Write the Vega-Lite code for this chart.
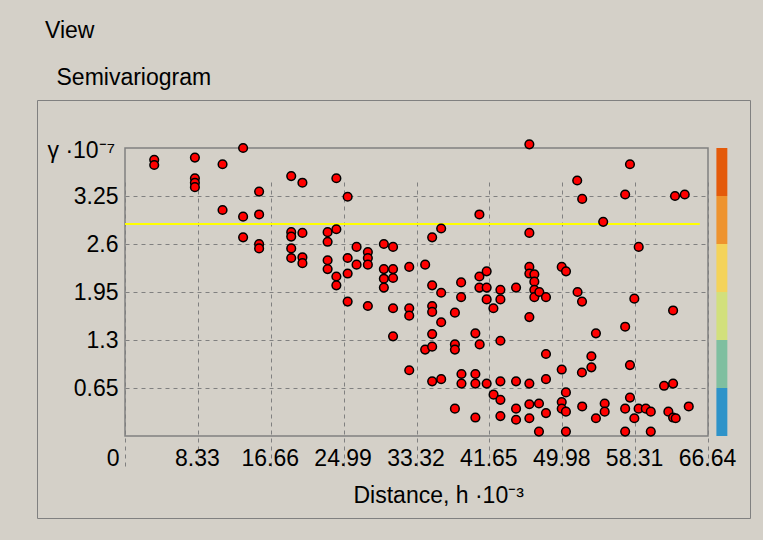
{
  "$schema": "https://vega.github.io/schema/vega-lite/v6.json",
  "width": 713,
  "height": 418,
  "autosize": "none",
  "padding": {"left": 37, "top": 100, "right": 13, "bottom": 22},
  "background": "#d4d0c8",
  "title": {
    "text": "View",
    "subtitle": "\u200b\u2002Semivariogram",
    "anchor": "start",
    "frame": "group",
    "dx": 8,
    "offset": 10,
    "fontSize": 23,
    "fontWeight": "normal",
    "color": "#000000",
    "subtitleFontSize": 23,
    "subtitleColor": "#000000",
    "subtitlePadding": 24
  },
  "config": {
    "font": "Liberation Sans",
    "view": {"stroke": "#808080", "strokeWidth": 1, "fill": "#d4d0c8"}
  },
  "datasets": {
    "points": [
      {"h": 3.34, "g": 3.74}, {"h": 3.34, "g": 3.67}, {"h": 7.99, "g": 3.77}, {"h": 7.99, "g": 3.49},
      {"h": 7.99, "g": 3.43}, {"h": 7.99, "g": 3.37}, {"h": 11.15, "g": 3.68}, {"h": 11.15, "g": 3.06},
      {"h": 13.5, "g": 3.9}, {"h": 15.33, "g": 3.31}, {"h": 13.5, "g": 2.97}, {"h": 15.33, "g": 3.0},
      {"h": 13.5, "g": 2.69}, {"h": 15.33, "g": 2.6}, {"h": 15.33, "g": 2.54}, {"h": 19.0, "g": 3.52},
      {"h": 20.28, "g": 3.43}, {"h": 19.0, "g": 2.76}, {"h": 19.0, "g": 2.7}, {"h": 20.28, "g": 2.75},
      {"h": 19.0, "g": 2.54}, {"h": 19.0, "g": 2.41}, {"h": 20.28, "g": 2.42}, {"h": 20.28, "g": 2.34},
      {"h": 24.16, "g": 3.49}, {"h": 25.45, "g": 3.24}, {"h": 23.16, "g": 2.76}, {"h": 24.16, "g": 2.8},
      {"h": 23.16, "g": 2.63}, {"h": 23.16, "g": 2.38}, {"h": 23.16, "g": 2.26}, {"h": 24.16, "g": 2.16},
      {"h": 24.16, "g": 2.04}, {"h": 25.45, "g": 2.41}, {"h": 25.45, "g": 2.2}, {"h": 26.47, "g": 2.56},
      {"h": 26.47, "g": 2.32}, {"h": 27.76, "g": 2.49}, {"h": 27.76, "g": 2.41}, {"h": 27.76, "g": 2.32},
      {"h": 29.59, "g": 2.6}, {"h": 30.64, "g": 2.56}, {"h": 29.59, "g": 2.26}, {"h": 29.59, "g": 2.13},
      {"h": 29.59, "g": 2.01}, {"h": 30.64, "g": 2.26}, {"h": 30.64, "g": 2.14}, {"h": 32.49, "g": 2.29},
      {"h": 25.45, "g": 1.82}, {"h": 27.76, "g": 1.76}, {"h": 30.64, "g": 1.73}, {"h": 32.49, "g": 1.73},
      {"h": 32.49, "g": 1.63}, {"h": 30.64, "g": 1.35}, {"h": 32.49, "g": 0.89}, {"h": 34.31, "g": 2.32},
      {"h": 35.11, "g": 2.04}, {"h": 36.14, "g": 1.94}, {"h": 36.14, "g": 2.81}, {"h": 35.11, "g": 2.69},
      {"h": 40.51, "g": 3.0}, {"h": 35.11, "g": 1.76}, {"h": 35.11, "g": 1.68}, {"h": 36.14, "g": 1.54},
      {"h": 38.42, "g": 2.08}, {"h": 38.42, "g": 1.88}, {"h": 37.71, "g": 1.67}, {"h": 40.51, "g": 2.16},
      {"h": 41.34, "g": 2.23}, {"h": 40.51, "g": 2.01}, {"h": 41.34, "g": 2.01}, {"h": 41.34, "g": 1.85},
      {"h": 42.11, "g": 1.73}, {"h": 42.91, "g": 1.98}, {"h": 42.91, "g": 1.85}, {"h": 35.11, "g": 1.38},
      {"h": 34.31, "g": 1.17}, {"h": 35.11, "g": 1.21}, {"h": 37.71, "g": 1.24}, {"h": 37.71, "g": 1.17},
      {"h": 40.05, "g": 1.39}, {"h": 40.54, "g": 1.24}, {"h": 42.91, "g": 1.29}, {"h": 35.11, "g": 0.74},
      {"h": 36.14, "g": 0.77}, {"h": 38.46, "g": 0.84}, {"h": 38.46, "g": 0.71}, {"h": 40.05, "g": 0.84},
      {"h": 40.05, "g": 0.71}, {"h": 41.34, "g": 0.71}, {"h": 42.91, "g": 0.74}, {"h": 42.13, "g": 0.56},
      {"h": 42.91, "g": 0.49}, {"h": 37.71, "g": 0.37}, {"h": 40.05, "g": 0.25}, {"h": 42.91, "g": 0.27},
      {"h": 46.22, "g": 3.95}, {"h": 51.69, "g": 3.46}, {"h": 52.26, "g": 3.21}, {"h": 46.22, "g": 2.75},
      {"h": 54.66, "g": 2.9}, {"h": 46.22, "g": 2.29}, {"h": 46.22, "g": 2.2}, {"h": 46.79, "g": 2.19},
      {"h": 46.79, "g": 2.09}, {"h": 46.79, "g": 1.98}, {"h": 46.79, "g": 1.88}, {"h": 47.36, "g": 1.95},
      {"h": 48.12, "g": 1.88}, {"h": 44.7, "g": 2.01}, {"h": 49.92, "g": 2.29}, {"h": 50.41, "g": 2.23},
      {"h": 51.73, "g": 1.95}, {"h": 52.24, "g": 1.82}, {"h": 46.22, "g": 1.61}, {"h": 53.83, "g": 1.39},
      {"h": 48.12, "g": 1.11}, {"h": 53.31, "g": 1.08}, {"h": 53.31, "g": 0.93}, {"h": 52.23, "g": 0.86},
      {"h": 49.92, "g": 0.9}, {"h": 44.7, "g": 0.74}, {"h": 46.22, "g": 0.71}, {"h": 48.12, "g": 0.77},
      {"h": 50.4, "g": 0.59}, {"h": 49.92, "g": 0.46}, {"h": 49.92, "g": 0.37}, {"h": 50.4, "g": 0.33},
      {"h": 44.7, "g": 0.37}, {"h": 44.7, "g": 0.22}, {"h": 46.22, "g": 0.43}, {"h": 46.22, "g": 0.24},
      {"h": 47.32, "g": 0.44}, {"h": 48.12, "g": 0.31}, {"h": 47.32, "g": 0.06}, {"h": 50.4, "g": 0.06},
      {"h": 52.26, "g": 0.4}, {"h": 53.83, "g": 0.24}, {"h": 57.72, "g": 3.68}, {"h": 57.17, "g": 3.27},
      {"h": 62.87, "g": 3.25}, {"h": 63.98, "g": 3.27}, {"h": 58.72, "g": 2.56}, {"h": 58.22, "g": 1.86},
      {"h": 62.65, "g": 1.7}, {"h": 57.17, "g": 1.48}, {"h": 57.72, "g": 0.96}, {"h": 61.62, "g": 0.68},
      {"h": 62.65, "g": 0.71}, {"h": 57.72, "g": 0.52}, {"h": 54.83, "g": 0.44}, {"h": 54.83, "g": 0.33},
      {"h": 57.17, "g": 0.37}, {"h": 58.22, "g": 0.24}, {"h": 58.71, "g": 0.37}, {"h": 59.53, "g": 0.37},
      {"h": 60.1, "g": 0.33}, {"h": 62.11, "g": 0.33}, {"h": 62.65, "g": 0.25}, {"h": 62.95, "g": 0.24},
      {"h": 64.44, "g": 0.4}, {"h": 57.17, "g": 0.06}, {"h": 60.1, "g": 0.06}
    ],
    "bands": [
      {"lo": 0, "hi": 0.65, "band": "b1"},
      {"lo": 0.65, "hi": 1.3, "band": "b2"},
      {"lo": 1.3, "hi": 1.95, "band": "b3"},
      {"lo": 1.95, "hi": 2.6, "band": "b4"},
      {"lo": 2.6, "hi": 3.25, "band": "b5"},
      {"lo": 3.25, "hi": 3.9, "band": "b6"}
    ],
    "sill": [{"gamma": 2.87, "h0": 0, "h1": 65.7}]
  },
  "layer": [
    {
      "data": {"name": "points"},
      "mark": {"type": "point", "filled": true, "fill": "#ff0000", "stroke": "#000000", "strokeWidth": 1.5, "size": 75, "opacity": 0},
      "encoding": {
        "x": {
          "field": "h",
          "type": "quantitative",
          "scale": {"domain": [0, 66.64], "range": [88, 671], "nice": false, "zero": false},
          "axis": {
            "values": [0, 8.33, 16.66, 24.99, 33.32, 41.65, 49.98, 58.31, 66.64],
            "format": ".4~g",
            "offset": -82,
            "ticks": false,
            "domain": false,
            "grid": true,
            "gridDash": [4, 4],
            "gridColor": "#808080",
            "gridWidth": 1,
            "gridOpacity": 1,
            "labelFontSize": 23,
            "labelColor": "#000000",
            "labelPadding": 11,
            "labelFlush": false,
            "labelOverlap": false,
            "labelBound": false,
            "labelAlign": {"condition": {"test": "datum.value === 0", "value": "right"}, "value": "center"},
            "labelOffset": {"condition": {"test": "datum.value === 0", "value": -6}, "value": -1},
            "title": "Distance, h ·10⁻³",
            "titleFontSize": 23,
            "titleFontWeight": "normal",
            "titleColor": "#000000",
            "titleAlign": "left",
            "titleBaseline": "alphabetic",
            "titleX": 316,
            "titleY": 66
          }
        },
        "y": {
          "field": "g",
          "type": "quantitative",
          "scale": {"domain": [0, 3.9], "range": [336, 48], "nice": false, "zero": false},
          "axis": {
            "values": [0.65, 1.3, 1.95, 2.6, 3.25],
            "format": ".4~g",
            "offset": -88,
            "ticks": false,
            "domain": false,
            "grid": true,
            "gridDash": [4, 4],
            "gridColor": "#808080",
            "gridWidth": 1,
            "gridOpacity": 1,
            "labelFontSize": 23,
            "labelColor": "#000000",
            "labelPadding": 7,
            "labelFlush": false,
            "labelOverlap": false,
            "labelBound": false,
            "title": "γ ·10⁻⁷",
            "titleFontSize": 23,
            "titleFontWeight": "normal",
            "titleColor": "#000000",
            "titleAngle": 0,
            "titleAlign": "left",
            "titleBaseline": "alphabetic",
            "titleX": -78,
            "titleY": 57
          }
        }
      }
    },
    {
      "data": {"name": "bands"},
      "mark": {"type": "rect"},
      "encoding": {
        "x": {"datum": 67.6, "type": "quantitative"},
        "x2": {"datum": 68.85},
        "y": {"field": "lo", "type": "quantitative"},
        "y2": {"field": "hi"},
        "color": {
          "field": "band",
          "type": "nominal",
          "legend": null,
          "scale": {
            "domain": ["b1", "b2", "b3", "b4", "b5", "b6"],
            "range": ["#2e93c9", "#7fbfa0", "#d2e07c", "#f4d35a", "#ee932e", "#e45a0a"]
          }
        }
      }
    },
    {
      "data": {"values": [{}]},
      "mark": {"type": "rect", "fill": "transparent", "stroke": "#808080", "strokeWidth": 1.5},
      "encoding": {
        "x": {"datum": 0, "type": "quantitative"},
        "x2": {"datum": 66.64},
        "y": {"datum": 0, "type": "quantitative"},
        "y2": {"datum": 3.9}
      }
    },
    {
      "data": {"name": "sill"},
      "mark": {"type": "rule", "color": "#ffff00", "strokeWidth": 2},
      "encoding": {
        "x": {"field": "h0", "type": "quantitative"},
        "x2": {"field": "h1"},
        "y": {"field": "gamma", "type": "quantitative"}
      }
    },
    {
      "data": {"name": "points"},
      "mark": {"type": "point", "filled": true, "fill": "#ff0000", "stroke": "#000000", "strokeWidth": 1.5, "size": 75, "opacity": 1, "fillOpacity": 1, "strokeOpacity": 1},
      "encoding": {
        "x": {"field": "h", "type": "quantitative"},
        "y": {"field": "g", "type": "quantitative"}
      }
    }
  ]
}
